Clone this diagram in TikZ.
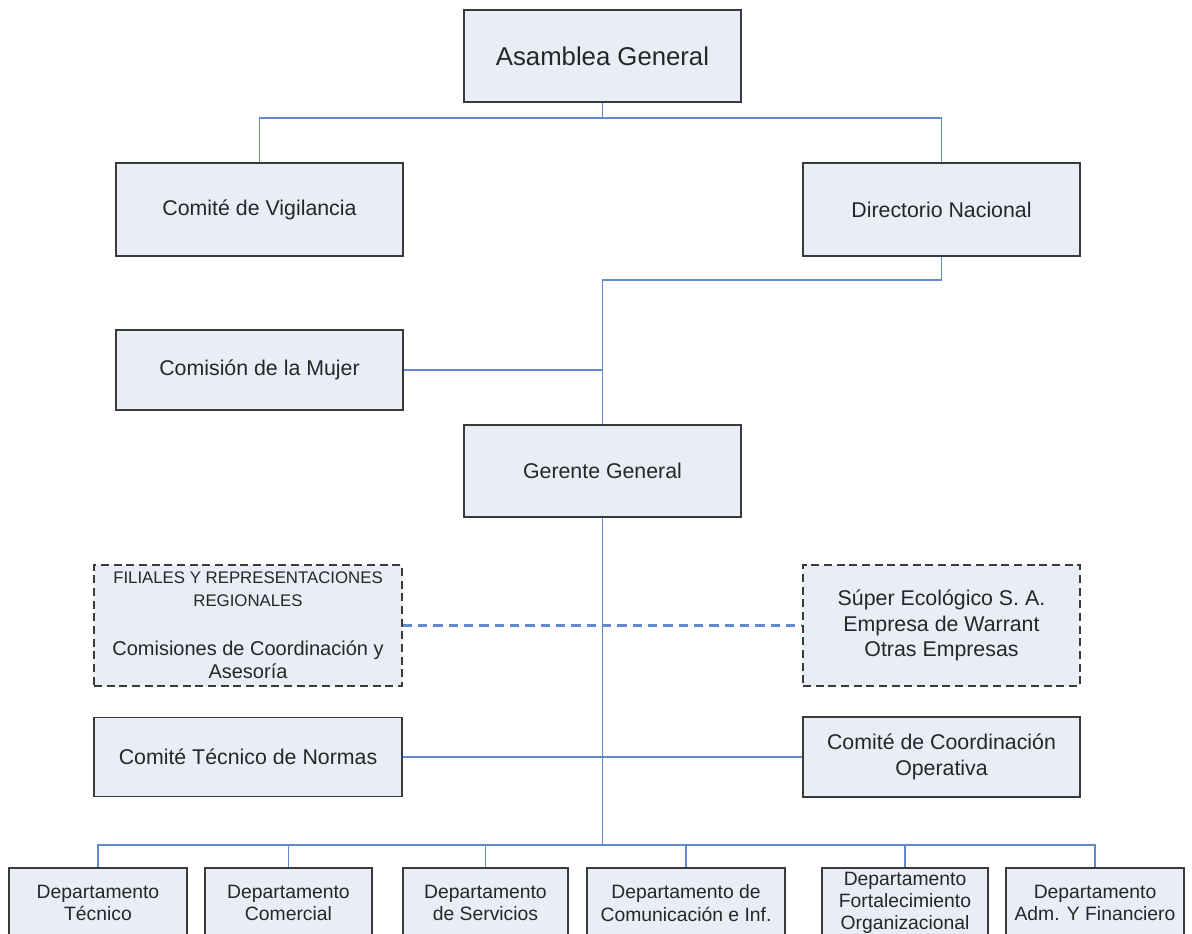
\documentclass[tikz,border=0pt]{standalone}
\usepackage{fontspec}
\setmainfont{Liberation Sans}

\definecolor{boxfill}{RGB}{233,237,246}
\definecolor{boxline}{RGB}{58,58,58}
\definecolor{linkblue}{RGB}{96,138,204}

\begin{document}
\begin{tikzpicture}[x=0.75pt,y=-0.75pt]
    \useasboundingbox (0,0) rectangle (1192,934);

        \begin{scope}[every node/.style={rectangle,draw=boxline,line width=1.2pt,fill=boxfill,text=black!85,align=center,inner sep=2pt,font={\fontsize{16}{19}\selectfont}}]
            \node[minimum width=207.75pt,minimum height=69pt,font={\fontsize{19.3}{23}\selectfont}] (asamblea) at (602.5,56) {Asamblea General};
            \node[minimum width=215.25pt,minimum height=69.75pt] (vigilancia) at (259.5,209.5) {Comité de Vigilancia};
            \node[minimum width=207.75pt,minimum height=69.75pt] (directorio) at (941.5,209.5) {Directorio Nacional};
            \node[minimum width=215.25pt,minimum height=60pt] (mujer) at (259.5,370) {Comisión de la Mujer};
            \node[minimum width=207.75pt,minimum height=69pt] (gerente) at (602.5,471) {Gerente General};
            \node[dash pattern=on 6pt off 3.5pt,minimum width=231pt,minimum height=90.75pt,font={\fontsize{15}{17}\selectfont}] (filiales) at (248,625.5)
                {{\fontsize{12.6}{15}\selectfont FILIALES Y REPRESENTACIONES}\\{\fontsize{12.6}{15}\selectfont REGIONALES}\\[20pt]Comisiones de Coordinación y\\Asesoría};
            \node[dash pattern=on 6pt off 3.5pt,minimum width=207.75pt,minimum height=90.75pt] (empresas) at (941.5,625.5)
                {Súper Ecológico S. A.\\Empresa de Warrant\\Otras Empresas};
            \node[minimum width=231pt,minimum height=59.25pt] (normas) at (248,757) {Comité Técnico de Normas};
            \node[minimum width=207.75pt,minimum height=60pt] (operativa) at (941.5,757) {Comité de Coordinación\\Operativa};
        \end{scope}

        \begin{scope}[every node/.style={rectangle,draw=boxline,line width=1.2pt,fill=boxfill,text=black!85,align=center,inner sep=1pt,minimum height=52.5pt,font={\fontsize{14.5}{17}\selectfont}}]
            \node[minimum width=133.5pt] (d1) at (98,903) {Departamento\\Técnico};
            \node[minimum width=125.25pt] (d2) at (288.5,903) {Departamento\\Comercial};
            \node[minimum width=123.75pt] (d3) at (485.5,903) {Departamento\\de Servicios};
            \node[minimum width=148.5pt] (d4) at (686,903) {Departamento de\\Comunicación e Inf.};
            \node[minimum width=124.5pt,font={\fontsize{14.5}{16.5}\selectfont}] (d5) at (905,903) {Departamento\\Fortalecimiento\\Organizacional};
            \node[minimum width=133.5pt] (d6) at (1095,903) {Departamento\\Adm. Y Financiero};
        \end{scope}

        \coordinate (top) at (602.5,118);
        \coordinate (mid) at (602.5,280);
        \coordinate (low) at (602.5,845);

        \begin{scope}[color=linkblue,line width=1.2pt]
            \draw (asamblea.south) -- (top);
            \draw (top) -| (vigilancia.north);
            \draw (top) -| (directorio.north);

            \draw (directorio.south) |- (mid) -- (gerente.north);
            \draw (mujer.east) -- (mujer.east -| mid);

            \draw (gerente.south) -- (low);
            \draw[draw=linkblue,line width=1.6pt,dash pattern=on 7pt off 4.5pt] (filiales.east) -- (empresas.west);
            \draw (normas.east) -- (operativa.west);

            \draw (low) -| (d1.north);
            \draw (low) -| (d2.north);
            \draw (low) -| (d3.north);
            \draw (low) -| (d4.north);
            \draw (low) -| (d5.north);
            \draw (low) -| (d6.north);
        \end{scope}

    \end{tikzpicture}
\end{document}
